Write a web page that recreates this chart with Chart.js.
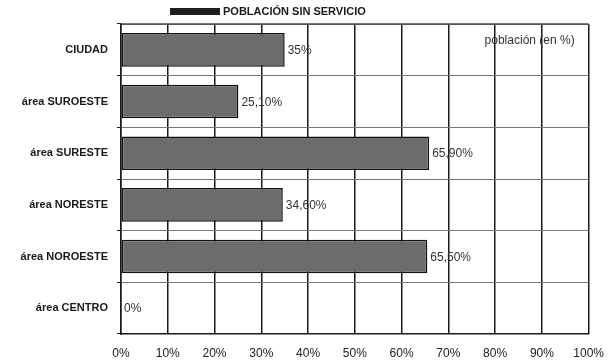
<!DOCTYPE html>
<html>
<head>
<meta charset="utf-8">
<script src="https://cdn.jsdelivr.net/npm/chart.js@4.4.0/dist/chart.umd.min.js"></script>
<style>
  html, body { margin: 0; padding: 0; background: #fff; }
  #wrap { width: 616px; height: 361px; }
</style>
</head>
<body>
<div id="wrap"><canvas id="chart" width="616" height="361"></canvas></div>
<script>
const areas = [
  "CIUDAD",
  "área SUROESTE",
  "área SURESTE",
  "área NORESTE",
  "área NOROESTE",
  "área CENTRO",
];
const sinServicio = [35, 25.1, 65.9, 34.6, 65.5, 0];
const valueLabels = ["35%", "25,10%", "65,90%", "34,60%", "65,50%", "0%"];
const seriesName = "POBLACIÓN SIN SERVICIO";
const unitNote = "población (en %)";

/* legend box + title drawn by hand, plus labels at the end of each bar */
const extrasPlugin = {
  id: "extras",
  afterDatasetsDraw(chart) {
    const ctx = chart.ctx;
    const area = chart.chartArea;
    const xs = chart.scales.x;
    const meta = chart.getDatasetMeta(0);
    ctx.save();
    // legend
    ctx.fillStyle = "#1e1e1e";
    ctx.fillRect(area.left + 49, 8, 50, 7);
    ctx.fillStyle = "#1a1a1a";
    ctx.font = "bold 11px 'Liberation Sans', Arial, sans-serif";
    ctx.textAlign = "left";
    ctx.textBaseline = "middle";
    ctx.fillText(chart.data.datasets[0].label, area.left + 102, 12);
    // unit note
    ctx.font = "12px 'Liberation Sans', Arial, sans-serif";
    ctx.fillStyle = "#333";
    ctx.textAlign = "right";
    ctx.fillText(unitNote, area.right - 14, 41);
    // value labels
    ctx.textAlign = "left";
    meta.data.forEach((bar, i) => {
      const x = xs.getPixelForValue(sinServicio[i]) + 3;
      ctx.fillText(valueLabels[i], x, bar.y + 1);
    });
    ctx.restore();
  },
};

new Chart(document.getElementById("chart"), {
  type: "bar",
  data: {
    labels: areas,
    datasets: [
      {
        label: seriesName,
        data: sinServicio,
        backgroundColor: "#6c6c6c",
        borderColor: "#111",
        borderWidth: 1.5,
        borderSkipped: false,
        barPercentage: 0.65,
        categoryPercentage: 1,
      },
    ],
  },
  options: {
    indexAxis: "y",
    responsive: false,
    animation: false,
    devicePixelRatio: 1,
    layout: { padding: { top: 24, right: 25, left: 0, bottom: 0 } },
    plugins: {
      legend: { display: false },
      tooltip: { enabled: false },
    },
    scales: {
      x: {
        min: 0,
        max: 100,
        ticks: {
          stepSize: 10,
          padding: 12,
          color: "#222",
          font: { family: "'Liberation Sans', Arial, sans-serif", size: 12 },
          callback: (v) => v + "%",
        },
        grid: { color: "#1a1a1a", lineWidth: 1.5, drawTicks: false },
        border: { color: "#1a1a1a", width: 1.5 },
        afterFit(scale) {
          scale.height = 27;
        },
      },
      /* top frame line only */
      xTop: {
        position: "top",
        min: 0,
        max: 100,
        ticks: { display: false },
        grid: { display: false, drawTicks: false },
        border: { color: "#555", width: 1 },
        afterFit(scale) {
          scale.height = 0;
        },
      },
      y: {
        ticks: {
          padding: 9,
          color: "#1a1a1a",
          font: {
            family: "'Liberation Sans', Arial, sans-serif",
            size: 11,
            weight: "bold",
          },
        },
        grid: {
          color: "#777",
          lineWidth: 1,
          tickLength: 4,
          tickColor: "#1a1a1a",
        },
        border: { color: "#1a1a1a", width: 1.5 },
        afterFit(scale) {
          scale.width = 121;
        },
      },
    },
  },
  plugins: [extrasPlugin],
});
</script>
</body>
</html>
